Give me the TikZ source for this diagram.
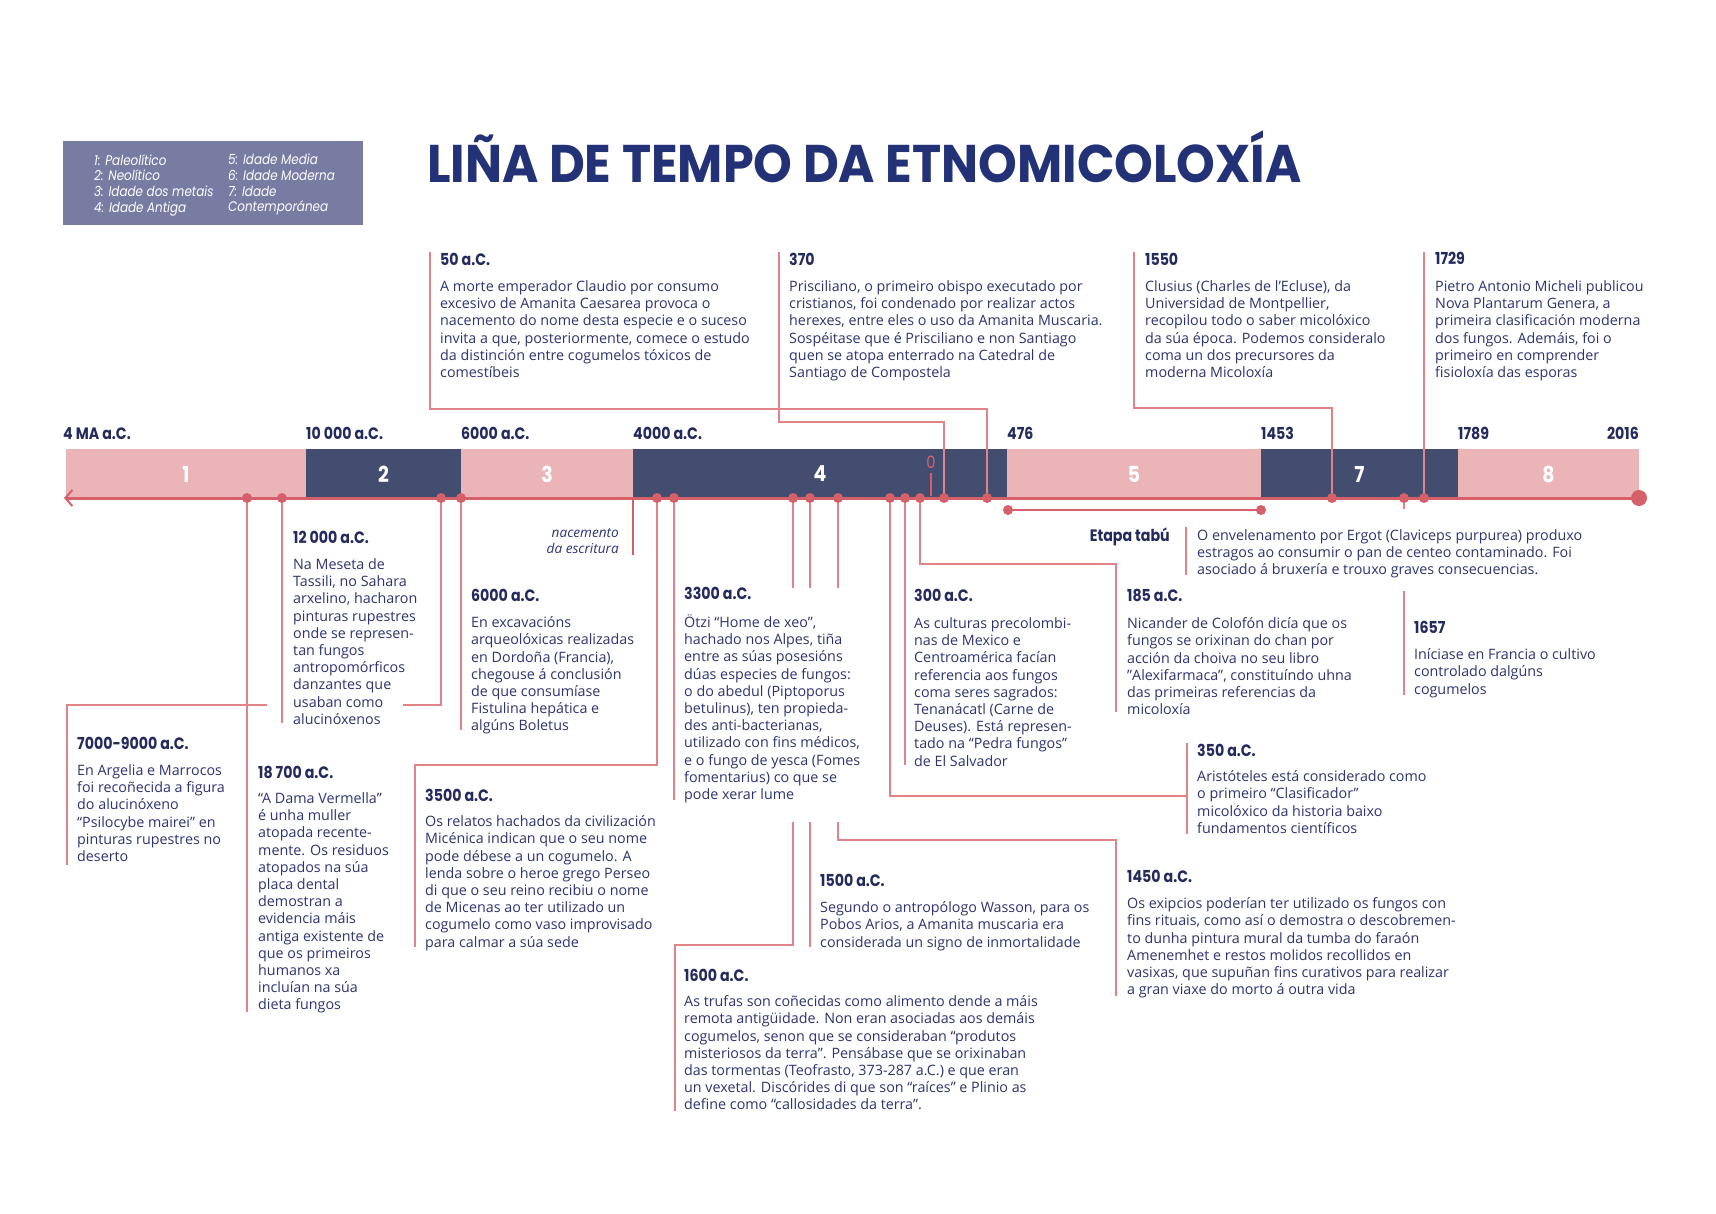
\documentclass[tikz,border=0pt]{standalone}
\usepackage{fontspec}
\setmainfont{Open Sans}
\newfontfamily\headfont{Poppins}[FakeStretch=0.86]
\newfontfamily\titlefont{Poppins}[FakeStretch=0.93]
\usetikzlibrary{arrows.meta}

\definecolor{bandpink}{RGB}{235,181,184}
\definecolor{banddark}{RGB}{66,77,111}
\definecolor{linered}{RGB}{214,96,106}
\definecolor{connred}{RGB}{226,130,137}
\definecolor{textblue}{RGB}{45,52,112}
\definecolor{headblue}{RGB}{36,42,92}
\definecolor{titleblue}{RGB}{35,49,119}
\definecolor{legendbg}{RGB}{120,124,163}

\tikzset{
  head/.style={font=\headfont\bfseries\fontsize{16.5}{20}\selectfont, text=headblue, anchor=base west, inner sep=0pt},
  body/.style={font=\fontsize{14.3}{17.2}\selectfont, text=textblue, align=left, anchor=north west,
    inner sep=0pt, yshift=10.5pt, execute at begin node={\rule{0pt}{14pt}}},
  era/.style={font=\headfont\bfseries\fontsize{16.5}{18}\selectfont, text=headblue, anchor=base west, inner sep=0pt},
  blocknum/.style={font=\headfont\bfseries\fontsize{22}{24}\selectfont, text=white},
  legend/.style={font=\headfont\itshape\fontsize{13.9}{15.7}\selectfont, text=white, align=left, anchor=north west,
    inner sep=0pt, yshift=11pt, execute at begin node={\rule{0pt}{12pt}}},
  conn/.style={connred, line width=1.3pt},
}

\begin{document}
\begin{tikzpicture}[x=1pt, y=-1pt]
  \useasboundingbox (0,0) rectangle (1716,1213);
  \fill[white] (0,0) rectangle (1716,1213);

  % Legend box and title
  \fill[legendbg] (63,141) rectangle (363,225);
  \node[legend] (legA) at (94,165) {1: Paleolítico\\2: Neolítico\\3: Idade dos metais\\4: Idade Antiga};
  \node[legend] (legB) at (228,165) {5: Idade Media\\6: Idade Moderna\\7: Idade\\Contemporánea};
  \node[font=\titlefont\bfseries\fontsize{53}{60}\selectfont, text=titleblue, anchor=west, inner sep=0pt]
    (title) at (427,157) {LIÑA DE TEMPO DA ETNOMICOLOXÍA};

  % Era blocks along the timeline
  \foreach \a/\b/\c/\n in {66/306/bandpink/1, 306/461/banddark/2, 461/633/bandpink/3,
      633/1007/banddark/4, 1007/1261/bandpink/5, 1261/1458/banddark/7, 1458/1639/bandpink/8} {
    \fill[\c] (\a,449) rectangle (\b,498);
    \node[blocknum] (block\n) at ({(\a+\b)/2},474) {\n};
  }

  % Era boundaries
  \node[era] (e1) at (63,439) {4 MA a.C.};
  \node[era] (e2) at (306,439) {10 000 a.C.};
  \node[era] (e3) at (461,439) {6000 a.C.};
  \node[era] (e4) at (633,439) {4000 a.C.};
  \node[era] (e5) at (1007,439) {476};
  \node[era] (e6) at (1261,439) {1453};
  \node[era] (e7) at (1458,439) {1789};
  \node[era, anchor=base east] (e8) at (1639,439) {2016};

  % Year zero
  \node[font=\headfont\fontsize{17}{20}\selectfont, text=linered] (zero) at (931,462) {0};
  \coordinate (z1) at (931,473);
  \coordinate (z2) at (931,496);
  \draw[linered, line width=2.2pt] (z1) -- (z2);

  % Points on the axis
  \foreach \n/\x in {d18700/247, d12000/282, d7000/441, d6000/461, d3500/657, d3300/674,
      d1600/793, d1500/810, d1450/838, d350/890, d300/905, d185/920, d370/944, d50/987,
      d1550/1332, d1657/1404, d1729/1424, dEnd/1639}
    \coordinate (\n) at (\x,498);
  \coordinate (dStart) at (64,498);
  \coordinate (dWrite) at (633,498);

  % Free ends of the connectors
  \coordinate (c50) at (430,252);
  \coordinate (c370) at (779,252);
  \coordinate (c1550) at (1134,252);
  \coordinate (c1729) at (1424,252);
  \coordinate (c18700) at (247,1012);
  \coordinate (c12000) at (282,723);
  \coordinate (g7000a) at (403,705);
  \coordinate (g7000b) at (267,705);
  \coordinate (c7000) at (67,865);
  \coordinate (c6000) at (461,730);
  \coordinate (c3500) at (415,947);
  \coordinate (c3300) at (674,800);
  \coordinate (c1600) at (675,1111);
  \coordinate (c1500) at (810,947);
  \coordinate (c1450) at (1116,996);
  \coordinate (k350) at (1187,796);
  \coordinate (t350a) at (1187,743);
  \coordinate (t350b) at (1187,834);
  \coordinate (c300) at (905,765);
  \coordinate (c185) at (1116,712);
  \coordinate (c1657) at (1404,695);
  \coordinate (tabuA) at (1186,527);
  \coordinate (tabuB) at (1186,575);
  \coordinate (tb1) at (1008,510);
  \coordinate (tb2) at (1261,510);
  \coordinate (cWrite) at (633,555);

  % Connectors above the axis
  \draw[conn] (c50) |- (d50 |- 0,409) -- (d50);
  \draw[conn] (c370) |- (d370 |- 0,422) -- (d370);
  \draw[conn] (c1550) |- (d1550 |- 0,408) -- (d1550);
  \draw[conn] (c1729) -- (d1729);

  % Connectors below the axis
  \draw[conn] (d18700) -- (c18700);
  \draw[conn] (d12000) -- (c12000);
  \draw[conn] (d7000) |- (g7000a);
  \draw[conn] (g7000b) -| (c7000);
  \draw[conn] (d6000) -- (c6000);
  \draw[conn] (d3500) |- (c3500 |- 0,765) -- (c3500);
  \draw[conn] (d3300) -- (c3300);
  \draw[conn] (d1600) -- (d1600 |- 0,588);
  \draw[conn] (d1600 |- 0,822) |- (c1600 |- 0,945) -- (c1600);
  \draw[conn] (d1500) -- (d1500 |- 0,588);
  \draw[conn] (d1500 |- 0,822) -- (c1500);
  \draw[conn] (d1450) -- (d1450 |- 0,588);
  \draw[conn] (d1450 |- 0,822) |- (c1450 |- 0,840) -- (c1450);
  \draw[conn] (d350) |- (k350);
  \draw[conn] (t350a) -- (t350b);
  \draw[conn] (d300) -- (c300);
  \draw[conn] (d185) |- (c185 |- 0,564) -- (c185);
  \draw[conn] (d1657) -- (d1657 |- 0,509);
  \draw[conn] (d1657 |- 0,591) -- (c1657);
  \draw[conn] (tabuA) -- (tabuB);

  % Axis, writing mark and taboo bracket
  \draw[linered, line width=3pt, -{Straight Barb[length=7pt,width=16pt,line width=2pt]}] (dEnd) -- (dStart);
  \draw[linered, line width=2.6pt] (dWrite) -- (cWrite);
  \draw[linered, line width=1.3pt] (tb1) -- (tb2);
  \foreach \n in {d18700, d12000, d7000, d6000, d3500, d3300, d1600, d1500, d1450,
      d350, d300, d185, d370, d50, d1550, d1657, d1729, tb1, tb2}
    \fill[linered] (\n) circle (5pt);
  \fill[linered] (dEnd) circle (8pt);

  \node[body, font=\itshape\fontsize{13.6}{16}\selectfont, align=right, anchor=north east]
    (write) at (619,539) {nacemento\\da escritura};

  % Events above the axis
  \node[head] (h50) at (440,265) {50 a.C.};
  \node[body] (b50) at (440,291) {A morte emperador Claudio por consumo\\excesivo de Amanita Caesarea provoca o\\nacemento do nome desta especie e o suceso\\invita a que, posteriormente, comece o estudo\\da distinción entre cogumelos tóxicos de\\comestíbeis};

  \node[head] (h370) at (789,265) {370};
  \node[body] (b370) at (789,291) {Prisciliano, o primeiro obispo executado por\\cristianos, foi condenado por realizar actos\\herexes, entre eles o uso da Amanita Muscaria.\\Sospéitase que é Prisciliano e non Santiago\\quen se atopa enterrado na Catedral de\\Santiago de Compostela};

  \node[head] (h1550) at (1145,265) {1550};
  \node[body] (b1550) at (1145,291) {Clusius (Charles de l'Ecluse), da\\Universidad de Montpellier,\\recopilou todo o saber micolóxico\\da súa época. Podemos consideralo\\coma un dos precursores da\\moderna Micoloxía};

  \node[head] (h1729) at (1435,264) {1729};
  \node[body] (b1729) at (1435,291) {Pietro Antonio Micheli publicou\\Nova Plantarum Genera, a\\primeira clasificación moderna\\dos fungos. Ademáis, foi o\\primeiro en comprender\\fisioloxía das esporas};

  % Events below the axis
  \node[head] (h12000) at (293,543) {12 000 a.C.};
  \node[body] (b12000) at (293,569) {Na Meseta de\\Tassili, no Sahara\\arxelino, hacharon\\pinturas rupestres\\onde se represen-\\tan fungos\\antropomórficos\\danzantes que\\usaban como\\alucinóxenos};

  \node[head] (h7000) at (77,749) {7000-9000 a.C.};
  \node[body] (b7000) at (77,775) {En Argelia e Marrocos\\foi recoñecida a figura\\do alucinóxeno\\“Psilocybe mairei” en\\pinturas rupestres no\\deserto};

  \node[head] (h18700) at (258,778) {18 700 a.C.};
  \node[body] (b18700) at (258,803) {“A Dama Vermella”\\é unha muller\\atopada recente-\\mente. Os residuos\\atopados na súa\\placa dental\\demostran a\\evidencia máis\\antiga existente de\\que os primeiros\\humanos xa\\incluían na súa\\dieta fungos};

  \node[head] (h6000) at (471,601) {6000 a.C.};
  \node[body] (b6000) at (471,627) {En excavacións\\arqueolóxicas realizadas\\en Dordoña (Francia),\\chegouse á conclusión\\de que consumíase\\Fistulina hepática e\\algúns Boletus};

  \node[head] (h3500) at (425,801) {3500 a.C.};
  \node[body] (b3500) at (425,826) {Os relatos hachados da civilización\\Micénica indican que o seu nome\\pode débese a un cogumelo. A\\lenda sobre o heroe grego Perseo\\di que o seu reino recibiu o nome\\de Micenas ao ter utilizado un\\cogumelo como vaso improvisado\\para calmar a súa sede};

  \node[head] (h3300) at (684,599) {3300 a.C.};
  \node[body] (b3300) at (684,625) {Ötzi “Home de xeo”,\\hachado nos Alpes, tiña\\entre as súas posesións\\dúas especies de fungos:\\o do abedul (Piptoporus\\betulinus), ten propieda-\\des anti-bacterianas,\\utilizado con fins médicos,\\e o fungo de yesca (Fomes\\fomentarius) co que se\\pode xerar lume};

  \node[head] (h1600) at (684,981) {1600 a.C.};
  \node[body] (b1600) at (684,1006) {As trufas son coñecidas como alimento dende a máis\\remota antigüidade. Non eran asociadas aos demáis\\cogumelos, senon que se consideraban “produtos\\misteriosos da terra”. Pensábase que se orixinaban\\das tormentas (Teofrasto, 373-287 a.C.) e que eran\\un vexetal. Discórides di que son “raíces” e Plinio as\\define como “callosidades da terra”.};

  \node[head] (h1500) at (820,886) {1500 a.C.};
  \node[body] (b1500) at (820,912) {Segundo o antropólogo Wasson, para os\\Pobos Arios, a Amanita muscaria era\\considerada un signo de inmortalidade};

  \node[head] (h1450) at (1127,882) {1450 a.C.};
  \node[body] (b1450) at (1127,908) {Os exipcios poderían ter utilizado os fungos con\\fins rituais, como así o demostra o descobremen-\\to dunha pintura mural da tumba do faraón\\Amenemhet e restos molidos recollidos en\\vasixas, que supuñan fins curativos para realizar\\a gran viaxe do morto á outra vida};

  \node[head] (h300) at (914,601) {300 a.C.};
  \node[body] (b300) at (914,628) {As culturas precolombi-\\nas de Mexico e\\Centroamérica facían\\referencia aos fungos\\coma seres sagrados:\\Tenanácatl (Carne de\\Deuses). Está represen-\\tado na “Pedra fungos”\\de El Salvador};

  \node[head] (h185) at (1127,601) {185 a.C.};
  \node[body] (b185) at (1127,628) {Nicander de Colofón dicía que os\\fungos se orixinan do chan por\\acción da choiva no seu libro\\"Alexifarmaca", constituíndo uhna\\das primeiras referencias da\\micoloxía};

  \node[head] (h350) at (1197,756) {350 a.C.};
  \node[body] (b350) at (1197,781) {Aristóteles está considerado como\\o primeiro “Clasificador”\\micolóxico da historia baixo\\fundamentos científicos};

  \node[head] (h1657) at (1414,633) {1657};
  \node[body] (b1657) at (1414,659) {Iníciase en Francia o cultivo\\controlado dalgúns\\cogumelos};

  % Taboo period
  \node[head, anchor=base east] (htabu) at (1170,541) {Etapa tabú};
  \node[body] (btabu) at (1197,540) {O envelenamento por Ergot (Claviceps purpurea) produxo\\estragos ao consumir o pan de centeo contaminado. Foi\\asociado á bruxería e trouxo graves consecuencias.};

\end{tikzpicture}
\end{document}
